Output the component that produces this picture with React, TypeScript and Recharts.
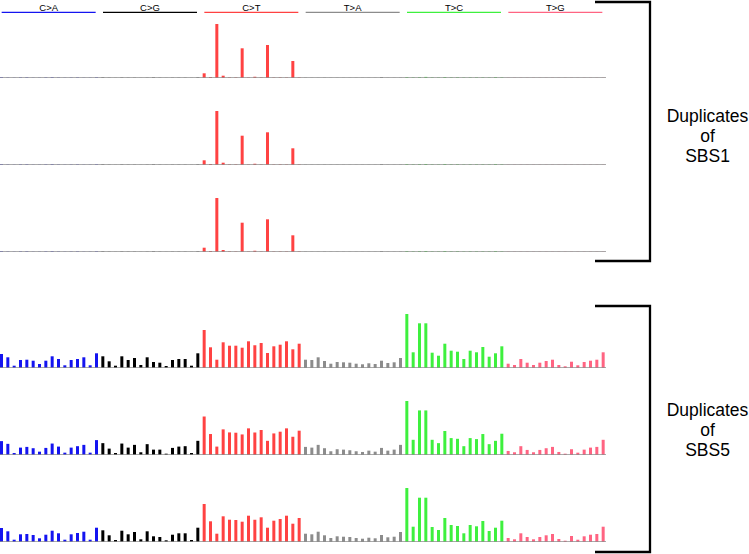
import { BarChart, Bar, XAxis, YAxis, Cell, ReferenceLine } from 'recharts';

const groups = ['C>A', 'C>G', 'C>T', 'T>A', 'T>C', 'T>G'];
const groupColors = ['#1414f0', '#000000', '#ff4242', '#8c8c8c', '#3ef03e', '#ff6482'];
const bases = ['A', 'C', 'G', 'T'];

// 96 trinucleotide contexts, grouped by substitution
const contexts = groups.flatMap((g) => bases.flatMap((p) => bases.map((n) => `${p}[${g}]${n}`)));

// SBS1 duplicates
const sbs1a = [
  0.6, 0.3, 0.2, 0.4, 0.5, 0.2, 0.2, 0.4, 0.6, 0.3, 0.2, 0.3, 0.4, 0.2, 0.2, 0.5,
  0.4, 0.2, 0.1, 0.3, 0.2, 0.2, 0.1, 0.2, 0.4, 0.2, 0.1, 0.2, 0.2, 0.2, 0.1, 0.4,
  4.7, 1.0, 54, 2.3, 0.5, 0.5, 29.7, 0.4, 1.3, 0.5, 33, 0.4, 0.5, 0.4, 17, 0.5,
  0.3, 0.2, 0.2, 0.3, 0.2, 0.2, 0.2, 0.2, 0.2, 0.2, 0.2, 0.2, 0.9, 0.2, 0.2, 0.3,
  0.8, 0.5, 0.7, 1.1, 0.5, 0.4, 0.9, 0.5, 0.6, 0.4, 0.5, 0.5, 0.5, 0.4, 0.8, 0.5,
  0.2, 0.2, 0.2, 0.2, 0.2, 0.2, 0.2, 0.2, 0.2, 0.2, 0.2, 0.2, 0.2, 0.2, 0.2, 0.2,
];
const sbs1b = [
  0.6, 0.3, 0.2, 0.4, 0.5, 0.2, 0.2, 0.4, 0.6, 0.3, 0.2, 0.3, 0.4, 0.2, 0.2, 0.5,
  0.4, 0.2, 0.1, 0.3, 0.2, 0.2, 0.1, 0.2, 0.4, 0.2, 0.1, 0.2, 0.2, 0.2, 0.1, 0.4,
  4.7, 1.0, 54, 2.3, 0.5, 0.5, 29.3, 0.4, 1.2, 0.5, 32.7, 0.4, 0.5, 0.4, 16.7, 0.5,
  0.3, 0.2, 0.2, 0.3, 0.2, 0.2, 0.2, 0.2, 0.2, 0.2, 0.2, 0.2, 0.8, 0.2, 0.2, 0.3,
  0.8, 0.5, 0.7, 1.0, 0.5, 0.4, 0.9, 0.5, 0.6, 0.4, 0.5, 0.5, 0.5, 0.4, 0.8, 0.5,
  0.2, 0.2, 0.2, 0.2, 0.2, 0.2, 0.2, 0.2, 0.2, 0.2, 0.2, 0.2, 0.2, 0.2, 0.2, 0.2,
];
const sbs1c = [
  0.6, 0.3, 0.2, 0.4, 0.5, 0.2, 0.2, 0.4, 0.6, 0.3, 0.2, 0.3, 0.4, 0.2, 0.2, 0.5,
  0.4, 0.2, 0.1, 0.3, 0.2, 0.2, 0.1, 0.2, 0.4, 0.2, 0.1, 0.2, 0.2, 0.2, 0.1, 0.4,
  4.3, 1.0, 54, 2.0, 0.5, 0.4, 29.3, 0.4, 1.2, 0.4, 32.7, 0.4, 0.4, 0.4, 16.7, 0.5,
  0.3, 0.2, 0.2, 0.3, 0.2, 0.2, 0.2, 0.2, 0.2, 0.2, 0.2, 0.2, 0.8, 0.2, 0.2, 0.3,
  0.8, 0.5, 0.7, 1.0, 0.5, 0.4, 0.9, 0.5, 0.6, 0.4, 0.5, 0.5, 0.5, 0.4, 0.8, 0.5,
  0.2, 0.2, 0.2, 0.2, 0.2, 0.2, 0.2, 0.2, 0.2, 0.2, 0.2, 0.2, 0.2, 0.2, 0.2, 0.2,
];

// SBS5 duplicates
const sbs5a = [
  14, 10.7, 2.3, 8, 8.3, 7.3, 4, 7.3, 11.7, 9, 2.7, 8, 9, 10.7, 2.7, 14.7,
  11.7, 6.7, 2.3, 11.7, 8, 10, 3, 10.7, 6, 5.3, 2, 8, 9, 9, 2.3, 14.7,
  38, 20.7, 8.3, 25.7, 22.3, 22.3, 20.3, 26.7, 22.7, 25, 15, 21.7, 23.3, 26.7, 18.7, 24.3,
  8.3, 8, 10.7, 7, 4.3, 6, 5.7, 5.3, 4.3, 3.7, 4.7, 4, 7.3, 5, 5.7, 10,
  54, 15.7, 44.7, 44.7, 15.3, 12.3, 24.3, 17.3, 16.3, 9, 17.3, 15.7, 21, 11.3, 14.7, 21.7,
  4.3, 3, 9, 5.3, 3, 5.3, 7, 8.3, 3, 1.7, 6.3, 2.7, 6, 7.3, 8.3, 15.7,
];
const sbs5b = [
  13.7, 11, 2, 7.3, 8, 6.7, 3.3, 7, 11.3, 8.3, 2.3, 7.3, 8.7, 10, 2.3, 14.7,
  11.7, 6.3, 2, 11.3, 7.3, 10, 2.7, 10.7, 5.3, 5.3, 1.3, 7, 8.3, 8.7, 2, 14,
  38, 20.7, 8.3, 25.3, 22.3, 22, 20.3, 26.3, 22.3, 24.7, 14, 21.3, 23, 26.3, 18, 24,
  8, 7.3, 10, 6.7, 3.7, 5.7, 5.3, 4.7, 3.7, 3, 4.3, 3.3, 7, 4.3, 5.3, 10,
  53.3, 15, 44, 44, 15, 11.7, 23.7, 16.7, 16, 8.7, 16.7, 15.7, 20.7, 10.7, 14, 21,
  4, 2.7, 8.7, 5, 2.7, 5, 6.7, 8, 3, 1.3, 5.7, 2.3, 5.3, 7.3, 8, 15,
];
const sbs5c = [
  14, 10.7, 2.3, 7.7, 8, 7, 3.7, 7.3, 11.3, 8.7, 2.3, 7.7, 9, 10.3, 2.3, 14.3,
  11.7, 6.7, 2, 11.3, 7.7, 10, 2.7, 10.7, 5.7, 5, 1.7, 7.3, 8.7, 8.7, 2, 14.3,
  38, 20.7, 8.3, 25.7, 22.3, 22, 20.3, 26.3, 22.3, 24.7, 14.3, 21.3, 23, 26.3, 18.3, 24,
  8.3, 7.7, 10.3, 6.7, 4, 5.7, 5.3, 5, 4, 3.3, 4.3, 3.7, 7, 4.7, 5.3, 10,
  54, 15.3, 44.3, 44.3, 15, 12, 24, 17, 16, 8.7, 17, 15.7, 21, 11, 14.3, 21.3,
  4, 2.7, 8.7, 5, 2.7, 5, 6.7, 8, 3, 1.3, 6, 2.3, 5.7, 7.3, 8, 15.3,
];

const font = 'Liberation Sans, Arial, sans-serif';
const W = 608;
const LEFT = -1.7;

function GroupTick({ x, payload, index }: any) {
  return (
    <g>
      <text x={x} y={10.8} textAnchor="middle" fontSize={9.5} fontFamily={font} fill="#000">
        {payload.value}
      </text>
      <line x1={x - 47} x2={x + 47} y1={12.4} y2={12.4} stroke={groupColors[index]} strokeWidth={1.1} />
    </g>
  );
}

function Header() {
  const data = groups.map((g) => ({ g, v: 0 }));
  return (
    <div style={{ position: 'absolute', left: LEFT, top: 0 }}>
      <BarChart width={W} height={30} data={data} margin={{ top: 0, right: 0, bottom: 0, left: 0 }}>
        <XAxis dataKey="g" orientation="top" height={24} axisLine={false} tickLine={false} tick={<GroupTick />} interval={0} />
        <YAxis hide domain={[0, 1]} />
        <Bar dataKey="v" isAnimationActive={false} fill="none" />
      </BarChart>
    </div>
  );
}

function Panel({ values, baseline }: { values: number[]; baseline: number }) {
  const data = contexts.map((c, i) => ({ c, v: values[i] }));
  const max = Math.max(...values);
  return (
    <div style={{ position: 'absolute', left: LEFT, top: baseline - 60 }}>
      <BarChart width={W} height={60} data={data} margin={{ top: 6, right: 0, bottom: 0, left: 0 }} barCategoryGap={0}>
        <XAxis dataKey="c" hide />
        <YAxis hide domain={[0, max]} allowDataOverflow />
        <ReferenceLine y={0} stroke="#8e8e8e" strokeWidth={1.5} />
        <Bar dataKey="v" barSize={3} isAnimationActive={false}>
          {data.map((d, i) => (
            <Cell key={d.c} fill={groupColors[Math.floor(i / 16)]} />
          ))}
        </Bar>
      </BarChart>
    </div>
  );
}

export default function App() {
  return (
    <div style={{ position: 'absolute', left: 0, top: 0, width: 749, height: 554, background: '#fff', overflow: 'hidden' }}>
      <Header />
      <Panel values={sbs1a} baseline={78} />
      <Panel values={sbs1b} baseline={165} />
      <Panel values={sbs1c} baseline={252} />
      <Panel values={sbs5a} baseline={367.5} />
      <Panel values={sbs5b} baseline={455} />
      <Panel values={sbs5c} baseline={542} />
      <svg width={749} height={554} style={{ position: 'absolute', left: 0, top: 0, pointerEvents: 'none' }}>
        <path d="M595 2 H650 V261 H595" fill="none" stroke="#000" strokeWidth={2.3} />
        <path d="M595 306 H650 V552 H595" fill="none" stroke="#000" strokeWidth={2.3} />
        <g fontFamily={font} fontSize={17.5} textAnchor="middle" fill="#000">
          <text x={707.5} y={122}>Duplicates</text>
          <text x={707.5} y={142}>of</text>
          <text x={707.5} y={162}>SBS1</text>
          <text x={707.5} y={416}>Duplicates</text>
          <text x={707.5} y={436}>of</text>
          <text x={707.5} y={456}>SBS5</text>
        </g>
      </svg>
    </div>
  );
}
